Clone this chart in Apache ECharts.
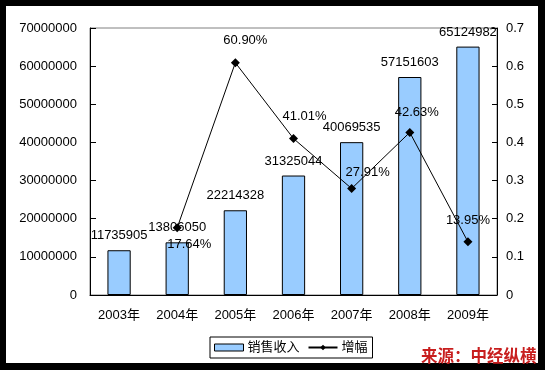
<!DOCTYPE html>
<html>
<head>
<meta charset="utf-8">
<script src="https://cdn.jsdelivr.net/npm/echarts@6/dist/echarts.min.js"></script>
<style>
html,body{margin:0;padding:0;background:#000;}
#c{width:545px;height:370px;}
</style>
</head>
<body>
<div id="c"></div>
<script>
const categories = ['2003年','2004年','2005年','2006年','2007年','2008年','2009年'];
const salesRevenue = [11735905, 13806050, 22214328, 31325044, 40069535, 57151603, 65124982];
const growthRate = [null, 0.1764, 0.609, 0.4101, 0.2791, 0.4263, 0.1395];
const leftTicks = {min: 0, max: 70000000, interval: 10000000};
const rightTicks = {min: 0, max: 0.7, interval: 0.1};
const seriesNames = ['销售收入', '增幅'];
const sourceText = '来源：中经纵横';

// label placement tweaks (style only)
const growthLabelStyle = [
  null,
  {position: 'bottom', offset: [12, 1]},
  {position: 'top', offset: [10, -6]},
  {position: 'top', offset: [11, -6]},
  {position: 'top', offset: [16, 0]},
  {position: 'top', offset: [7, -4]},
  {position: 'top', offset: [0, -5]}
];

const FONT = "'Liberation Sans','Noto Sans CJK SC',Arial,sans-serif";
const chart = echarts.init(document.getElementById('c'), null, {renderer: 'canvas'});

const growthData = growthRate.map((v, i) => {
  if (v === null) return null;
  const s = growthLabelStyle[i];
  return {value: v, label: {position: s.position, offset: s.offset}};
});

chart.setOption({
  backgroundColor: 'transparent',
  animation: false,
  textStyle: {fontFamily: FONT},
  graphic: [
    {type: 'rect', z: -10, shape: {x: 6, y: 6, width: 532, height: 357}, style: {fill: '#fff'}},
    {type: 'text', z: 100, left: 421, top: 347,
     style: {text: sourceText, fill: '#c81e1e', font: "bold 16.5px 'Noto Sans CJK SC'",
             shadowColor: 'rgba(0,0,0,0.35)', shadowBlur: 1, shadowOffsetX: 1, shadowOffsetY: 1}}
  ],
  grid: {left: 90, top: 28, right: 48, bottom: 75, show: true, borderColor: '#808080', borderWidth: 1, backgroundColor: 'transparent'},
  legend: {
    left: 210, top: 337,
    orient: 'horizontal',
    borderColor: '#000', borderWidth: 1,
    padding: [4, 5, 4, 4],
    itemWidth: 29, itemHeight: 7, itemGap: 8,
    textStyle: {fontSize: 13, color: '#000', fontFamily: FONT, padding: [0, 0, 0, -1]},
    data: [
      {name: seriesNames[0], icon: 'rect', itemStyle: {color: '#99ccff', borderColor: '#000', borderWidth: 1}},
      {name: seriesNames[1]}
    ]
  },
  xAxis: {
    type: 'category',
    data: categories,
    axisLine: {lineStyle: {color: '#000', width: 1}},
    axisTick: {inside: true, length: 4, lineStyle: {color: '#000'}},
    axisLabel: {color: '#000', fontSize: 13, margin: 14, fontFamily: FONT},
    splitLine: {show: false}
  },
  yAxis: [
    {
      type: 'value', min: leftTicks.min, max: leftTicks.max, interval: leftTicks.interval,
      axisLine: {show: true, lineStyle: {color: '#000'}},
      axisTick: {show: true, inside: true, length: 6, lineStyle: {color: '#000'}},
      axisLabel: {color: '#000', fontSize: 13, margin: 13, fontFamily: FONT,
                  formatter: v => String(Math.round(v))},
      splitLine: {show: false}
    },
    {
      type: 'value', min: rightTicks.min, max: rightTicks.max, interval: rightTicks.interval,
      position: 'right',
      axisLine: {show: true, lineStyle: {color: '#000'}},
      axisTick: {show: true, inside: true, length: 5, lineStyle: {color: '#000'}},
      axisLabel: {color: '#000', fontSize: 13, margin: 9, fontFamily: FONT,
                  formatter: v => (Math.round(v * 10) / 10).toString()},
      splitLine: {show: false}
    }
  ],
  series: [
    {
      name: seriesNames[0],
      type: 'bar',
      data: salesRevenue,
      barWidth: '40%',
      itemStyle: {color: '#99ccff', borderColor: '#000', borderWidth: 1},
      label: {show: true, position: 'top', distance: 8, color: '#000', fontSize: 13, fontFamily: FONT},
      z: 2
    },
    {
      name: seriesNames[1],
      type: 'line',
      yAxisIndex: 1,
      data: growthData,
      connectNulls: false,
      symbol: 'diamond',
      symbolSize: 9,
      lineStyle: {color: '#000', width: 1},
      itemStyle: {color: '#000'},
      label: {show: true, color: '#000', fontSize: 13, fontFamily: FONT,
              formatter: p => (p.value * 100).toFixed(2) + '%'},
      z: 3
    }
  ]
});
</script>
</body>
</html>
